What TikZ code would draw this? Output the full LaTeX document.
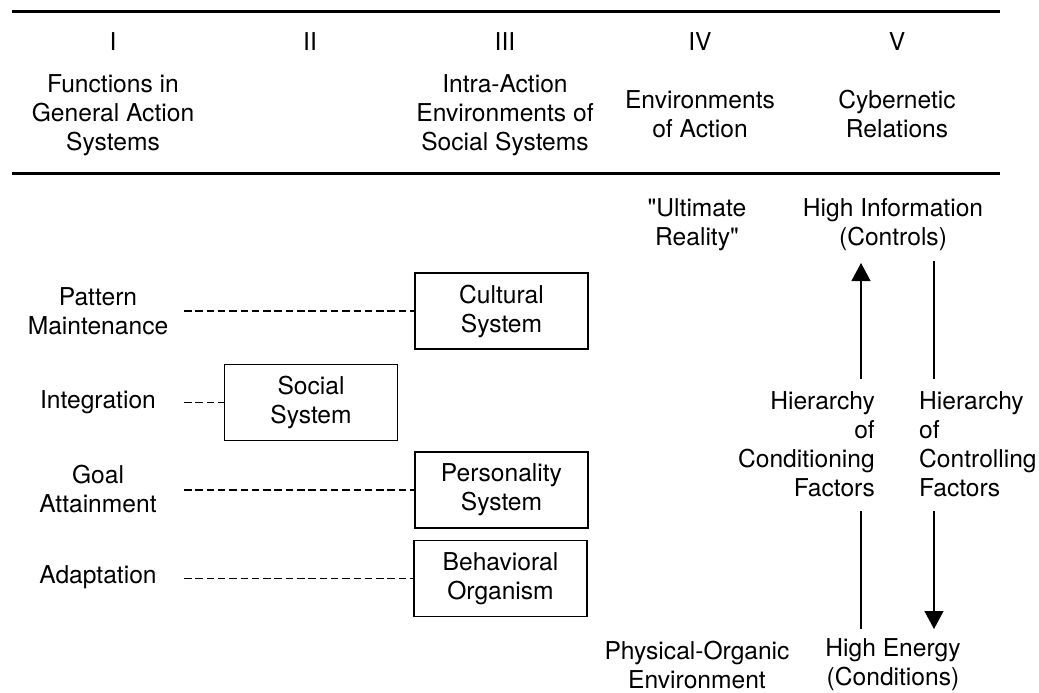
\documentclass[tikz,border=0pt]{standalone}
\usepackage{fontspec}
\setmainfont{TeX Gyre Heros}[Ligatures=TeXOff]
\usetikzlibrary{arrows.meta}
\begin{document}
\begin{tikzpicture}[x=1pt,y=-1pt,
  txt/.style={inner sep=0pt,align=center,font=\fontsize{24.6}{29}\selectfont},
  sysbox/.style={draw,line width=1.2pt,minimum width=173pt,minimum height=76pt,inner sep=0pt,align=center,font=\fontsize{24.6}{29}\selectfont},
  rule/.style={line width=3pt},
  link/.style={line width=1.2pt,dash pattern=on 7.5pt off 3.8pt},
  flow/.style={line width=1.2pt},
  flowarr/.style={line width=1.2pt,-{Triangle[width=19pt,length=18pt]}}]
\useasboundingbox (0,0) rectangle (1039,693);
% rules
\coordinate (r1l) at (12,12); \coordinate (r1r) at (1000,12);
\coordinate (r2l) at (12,173); \coordinate (r2r) at (1000,173);
\draw[rule] (r1l) -- (r1r);
\draw[rule] (r2l) -- (r2r);
% header
\node[txt] (n1) at (113,42) {I};
\node[txt] (n2) at (310,42) {II};
\node[txt] (n3) at (505,42) {III};
\node[txt] (n4) at (700,42) {IV};
\node[txt] (n5) at (897,42) {V};
\node[txt] (h1) at (113,115) {Functions in\\General Action\\Systems};
\node[txt] (h3) at (505,115) {Intra-Action\\Environments of\\Social Systems};
\node[txt] (h4) at (700,114) {Environments\\of Action};
\node[txt] (h5) at (897,114) {Cybernetic\\Relations};
% left labels
\node[txt] (pm) at (98,311) {Pattern\\Maintenance};
\node[txt] (int) at (98,402) {Integration};
\node[txt] (ga) at (98,489) {Goal\\Attainment};
\node[txt] (ad) at (98,577) {Adaptation};
% boxes
\node[sysbox] (cult) at (501.5,311) {Cultural\\System};
\node[sysbox] (soc) at (311,402.5) {Social\\System};
\node[sysbox] (pers) at (501.5,490) {Personality\\System};
\node[sysbox] (beh) at (500.5,578.5) {Behavioral\\Organism};
% dashed links
\coordinate (dl) at (184,0);
\draw[link] (dl |- cult.west) -- (cult.west);
\draw[link] (dl |- soc.west) -- (soc.west);
\draw[link] (dl |- pers.west) -- (pers.west);
\draw[link] (dl |- beh.west) -- (beh.west);
% right side
\node[txt] (ult) at (697,225) {"Ultimate\\Reality"};
\node[txt] (hinfo) at (893,225) {High Information\\(Controls)};
\node[txt,align=right,anchor=east] (hcond) at (875,444) {Hierarchy\\of\\Conditioning\\Factors};
\node[txt,align=left,anchor=west] (hctrl) at (919,444) {Hierarchy\\of\\Controlling\\Factors};
\node[txt] (phys) at (697,664.5) {Physical-Organic\\Environment};
\node[txt] (hen) at (893,664.5) {High Energy\\(Conditions)};
% cybernetic arrows
\coordinate (a1) at (861,379); \coordinate (a2) at (861,263);
\coordinate (b1) at (934,261); \coordinate (b2) at (934,379);
\coordinate (c1) at (861,511); \coordinate (c2) at (861,629);
\coordinate (d1) at (934,511); \coordinate (d2) at (934,629);
\draw[flowarr] (a1) -- (a2);
\draw[flow] (b1) -- (b2);
\draw[flow] (c1) -- (c2);
\draw[flowarr] (d1) -- (d2);
\end{tikzpicture}
\end{document}
